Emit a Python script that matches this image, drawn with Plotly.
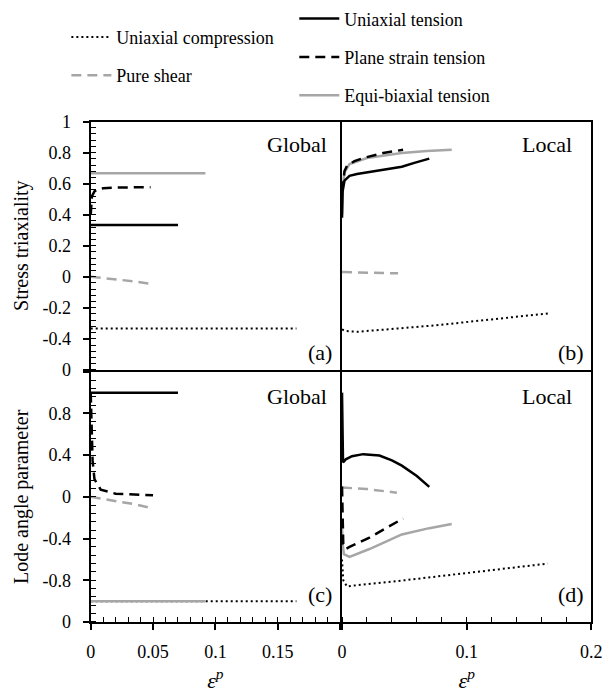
import plotly.graph_objects as go

# ---------------- data ----------------
# Panel (a): Global stress triaxiality
a_ut_x = [0, 0.070]
a_ut_y = [0.333, 0.333]
a_ps_x = [0, 0.001, 0.003, 0.006, 0.01, 0.02, 0.048]
a_ps_y = [0.40, 0.52, 0.55, 0.565, 0.57, 0.575, 0.577]
a_eb_x = [0, 0.092]
a_eb_y = [0.667, 0.667]
a_sh_x = [0, 0.01, 0.02, 0.035, 0.047]
a_sh_y = [0.0, -0.008, -0.018, -0.03, -0.044]
a_uc_x = [0, 0.165]
a_uc_y = [-0.333, -0.333]

# Panel (b): Local stress triaxiality
b_ut_x = [0, 0.0005, 0.002, 0.006, 0.012, 0.027, 0.04, 0.048, 0.058, 0.070]
b_ut_y = [0.38, 0.55, 0.62, 0.65, 0.662, 0.682, 0.70, 0.709, 0.734, 0.761]
b_ps_x = [0, 0.002, 0.004, 0.01, 0.017, 0.025, 0.033, 0.049]
b_ps_y = [0.55, 0.68, 0.715, 0.745, 0.765, 0.78, 0.797, 0.818]
b_eb_x = [0, 0.0005, 0.002, 0.006, 0.02, 0.048, 0.068, 0.088]
b_eb_y = [0.40, 0.58, 0.672, 0.726, 0.765, 0.797, 0.811, 0.818]
b_sh_x = [0, 0.045]
b_sh_y = [0.03, 0.022]
b_uc_x = [0, 0.003, 0.012, 0.04, 0.074, 0.12, 0.167]
b_uc_y = [-0.34, -0.35, -0.355, -0.337, -0.314, -0.275, -0.235]

# Panel (c): Global Lode angle parameter
c_ut_x = [0, 0.070]
c_ut_y = [1.0, 1.0]
c_ps_x = [0, 0.0003, 0.0008, 0.0015, 0.003, 0.008, 0.02, 0.035, 0.05]
c_ps_y = [1.0, 0.8, 0.55, 0.35, 0.17, 0.07, 0.03, 0.02, 0.015]
c_eb_x = [0, 0.092]
c_eb_y = [-1.0, -1.0]
c_sh_x = [0, 0.01, 0.02, 0.035, 0.048]
c_sh_y = [0.0, -0.02, -0.04, -0.07, -0.105]
c_uc_x = [0, 0.165]
c_uc_y = [-1.0, -1.0]

# Panel (d): Local Lode angle parameter
d_ut_x = [0, 0.0003, 0.0008, 0.003, 0.008, 0.017, 0.03, 0.04, 0.048, 0.06, 0.070]
d_ut_y = [1.0, 0.6, 0.33, 0.36, 0.39, 0.41, 0.397, 0.35, 0.30, 0.20, 0.096]
d_ps_x = [0, 0.0005, 0.001, 0.003, 0.006, 0.022, 0.049]
d_ps_y = [0.1, -0.2, -0.45, -0.5, -0.48, -0.39, -0.207]
d_eb_x = [0, 0.0005, 0.0015, 0.006, 0.022, 0.048, 0.07, 0.088]
d_eb_y = [-0.3, -0.45, -0.55, -0.575, -0.50, -0.36, -0.30, -0.26]
d_sh_x = [0, 0.02, 0.044]
d_sh_y = [0.09, 0.075, 0.04]
d_uc_x = [0, 0.001, 0.004, 0.01, 0.05, 0.1, 0.165]
d_uc_y = [-0.6, -0.8, -0.86, -0.85, -0.8, -0.73, -0.64]

names = ["Uniaxial tension", "Plane strain tension", "Equi-biaxial tension",
         "Uniaxial compression", "Pure shear"]

tri_ticks = [-0.6, -0.4, -0.2, 0, 0.2, 0.4, 0.6, 0.8, 1.0]
tri_text = ["0", "-0.4", "-0.2", "0", "0.2", "0.4", "0.6", "0.8", "1"]
lode_ticks = [-1.2, -0.8, -0.4, 0, 0.4, 0.8, 1.2]
lode_text = ["0", "-0.8", "-0.4", "0", "0.4", "0.8", ""]
xc_ticks = [0, 0.05, 0.1, 0.15, 0.2]
xc_text = ["0", "0.05", "0.1", "0.15", ""]
xd_ticks = [0, 0.1, 0.2]
xd_text = ["0", "0.1", "0.2"]

# ---------------- styles ----------------
GRAY = "#a6a6a6"
FONT = "Liberation Serif"
styles = {
    "Uniaxial tension": dict(color="black", width=2.5, dash="solid"),
    "Plane strain tension": dict(color="black", width=2.5, dash="10px,6px"),
    "Equi-biaxial tension": dict(color=GRAY, width=2.5, dash="solid"),
    "Uniaxial compression": dict(color="black", width=2, dash="2px,3px"),
    "Pure shear": dict(color=GRAY, width=2.5, dash="10px,6px"),
}
legend_of = {
    "Uniaxial tension": "legend2", "Plane strain tension": "legend2",
    "Equi-biaxial tension": "legend2",
    "Uniaxial compression": "legend", "Pure shear": "legend",
}
rank = {"Uniaxial tension": 1, "Plane strain tension": 2, "Equi-biaxial tension": 3,
        "Uniaxial compression": 1, "Pure shear": 2}

panels = [
    ("x", "y", [(a_ut_x, a_ut_y), (a_ps_x, a_ps_y), (a_eb_x, a_eb_y), (a_uc_x, a_uc_y), (a_sh_x, a_sh_y)]),
    ("x2", "y2", [(b_ut_x, b_ut_y), (b_ps_x, b_ps_y), (b_eb_x, b_eb_y), (b_uc_x, b_uc_y), (b_sh_x, b_sh_y)]),
    ("x3", "y3", [(c_ut_x, c_ut_y), (c_ps_x, c_ps_y), (c_eb_x, c_eb_y), (c_uc_x, c_uc_y), (c_sh_x, c_sh_y)]),
    ("x4", "y4", [(d_ut_x, d_ut_y), (d_ps_x, d_ps_y), (d_eb_x, d_eb_y), (d_uc_x, d_uc_y), (d_sh_x, d_sh_y)]),
]

fig = go.Figure()
for pi, (xa, ya, series) in enumerate(panels):
    order = [3, 4, 2, 1, 0]
    for si in order:
        nm = names[si]
        xs, ys = series[si]
        fig.add_trace(go.Scatter(
            x=xs, y=ys, mode="lines", name=nm, xaxis=xa, yaxis=ya,
            line=styles[nm], showlegend=(pi == 0), legend=legend_of[nm],
            legendgroup=nm, legendrank=rank[nm],
        ))

LW = 2
X_L = [88 / 616, 344 / 616]
X_R = [346 / 616, 602 / 616]
Y_T = [1 - 370 / 696, 1 - 114 / 696]
Y_B = [1 - 630 / 696, 1 - 372 / 696]

tickfont = dict(family=FONT, size=18, color="black")
base_ax = dict(showline=True, linecolor="black", linewidth=LW, mirror=True,
               showgrid=False, zeroline=False, tickfont=tickfont)

def xax(domain, anchor, ticks=None, text=None, minor_dt=None, title=None):
    d = dict(base_ax, domain=domain, anchor=anchor, range=[0, 0.2])
    if ticks is None:
        d.update(showticklabels=False, ticks="")
    else:
        d.update(tickmode="array", tickvals=ticks, ticktext=text, ticks="outside",
                 ticklen=6, tickwidth=1.5, tickcolor="black", ticklabelstandoff=6,
                 minor=dict(tickmode="linear", tick0=0, dtick=minor_dt, ticks="inside",
                            ticklen=5, tickwidth=1.2, tickcolor="black"))
    if title:
        d.update(title=dict(text=title, font=dict(family=FONT, size=22, color="black"),
                            standoff=12))
    return d

def yax(domain, anchor, rng, ticks=None, text=None, minor_dt=None, tick0=0, title=None):
    d = dict(base_ax, domain=domain, anchor=anchor, range=rng)
    if ticks is None:
        d.update(showticklabels=False, ticks="")
    else:
        d.update(tickmode="array", tickvals=ticks, ticktext=text, ticks="outside",
                 ticklen=6, tickwidth=1.5, tickcolor="black", ticklabelstandoff=8,
                 minor=dict(tickmode="linear", tick0=tick0, dtick=minor_dt, ticks="inside",
                            ticklen=5, tickwidth=1.2, tickcolor="black"))
    if title:
        d.update(title=dict(text=title, font=dict(family=FONT, size=20, color="black"),
                            standoff=9))
    return d

eps = "<i>ε</i><sup><i>p</i></sup>"
legfont = dict(family=FONT, size=18, color="black")
fig.update_layout(
    width=616, height=696,
    margin=dict(l=0, r=0, t=0, b=0),
    paper_bgcolor="white", plot_bgcolor="white",
    font=dict(family=FONT, color="black"),
    xaxis=xax(X_L, "y"),
    xaxis2=xax(X_R, "y2"),
    xaxis3=xax(X_L, "y3", xc_ticks, xc_text, 0.01, eps),
    xaxis4=xax(X_R, "y4", xd_ticks, xd_text, 0.02, eps),
    yaxis=yax(Y_T, "x", [-0.6, 1.0], tri_ticks, tri_text, 0.04, -0.6, "Stress triaxiality"),
    yaxis2=yax(Y_T, "x2", [-0.6, 1.0]),
    yaxis3=yax(Y_B, "x3", [-1.2, 1.2], lode_ticks, lode_text, 0.08, -1.2, "Lode angle parameter"),
    yaxis4=yax(Y_B, "x4", [-1.2, 1.2]),
    legend=dict(x=63 / 616, y=1 - 8 / 696, xanchor="left", yanchor="top",
                font=legfont, traceorder="grouped", tracegroupgap=12,
                bgcolor="rgba(0,0,0,0)", itemwidth=40),
    legend2=dict(x=297 / 616, y=1 + 11 / 696, xanchor="left", yanchor="top",
                 font=legfont, traceorder="grouped", tracegroupgap=12,
                 bgcolor="rgba(0,0,0,0)", itemwidth=40),
)

ann_font = dict(family=FONT, size=22, color="black")
anns = [
    ("Global", 333, 138), ("Local", 584, 138),
    ("(a)", 338, 352), ("(b)", 596, 352),
    ("Global", 333, 397), ("Local", 584, 397),
    ("(c)", 338, 602), ("(d)", 596, 602),
]
for txt, px, py in anns:
    fig.add_annotation(text=txt, x=px / 616, y=1 - py / 696, xref="paper", yref="paper",
                       xanchor="right", yanchor="middle", showarrow=False, font=ann_font)

fig.write_html("out.html")
